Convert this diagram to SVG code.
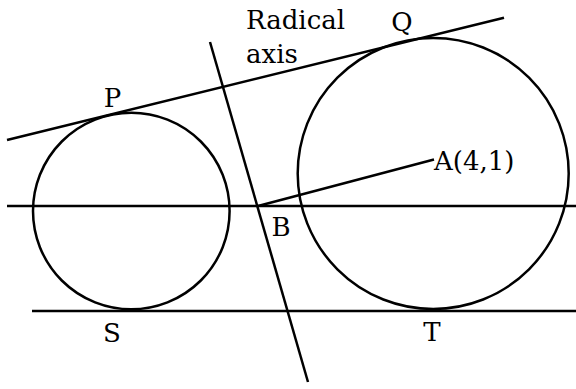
<svg xmlns="http://www.w3.org/2000/svg" width="576" height="389" viewBox="0 0 576 389">
<style>
.ln{stroke:#000;stroke-width:2.5;fill:none;stroke-linecap:butt}
.t{font-family:"DejaVu Serif","Liberation Serif",serif;font-size:26px;fill:#000}
.m{text-anchor:middle}
</style>
<rect width="576" height="389" fill="#fff"/>
<g id="circleLeft"><circle class="ln" cx="131.3" cy="211" r="98.3"/></g>
<g id="circleRight"><circle class="ln" cx="433.2" cy="173.5" r="135.5"/></g>
<g id="connectors">
<line class="ln" x1="7" y1="140" x2="504" y2="17.7"/>
<line class="ln" x1="7" y1="206" x2="576" y2="206"/>
<line class="ln" x1="32" y1="311" x2="576" y2="311"/>
<line class="ln" x1="210" y1="42" x2="308" y2="382"/>
<line class="ln" x1="258" y1="206" x2="434" y2="159.5"/>
</g>
<g id="labels">
<text class="t" x="246" y="29">Radical</text>
<text class="t" x="246" y="63">axis</text>
<text class="t m" x="402" y="31">Q</text>
<text class="t m" x="112.5" y="107">P</text>
<text class="t" x="434" y="170">A(4,1)</text>
<text class="t m" x="281" y="235.5">B</text>
<text class="t m" x="112" y="342">S</text>
<text class="t m" x="432" y="341">T</text>
</g>
</svg>
